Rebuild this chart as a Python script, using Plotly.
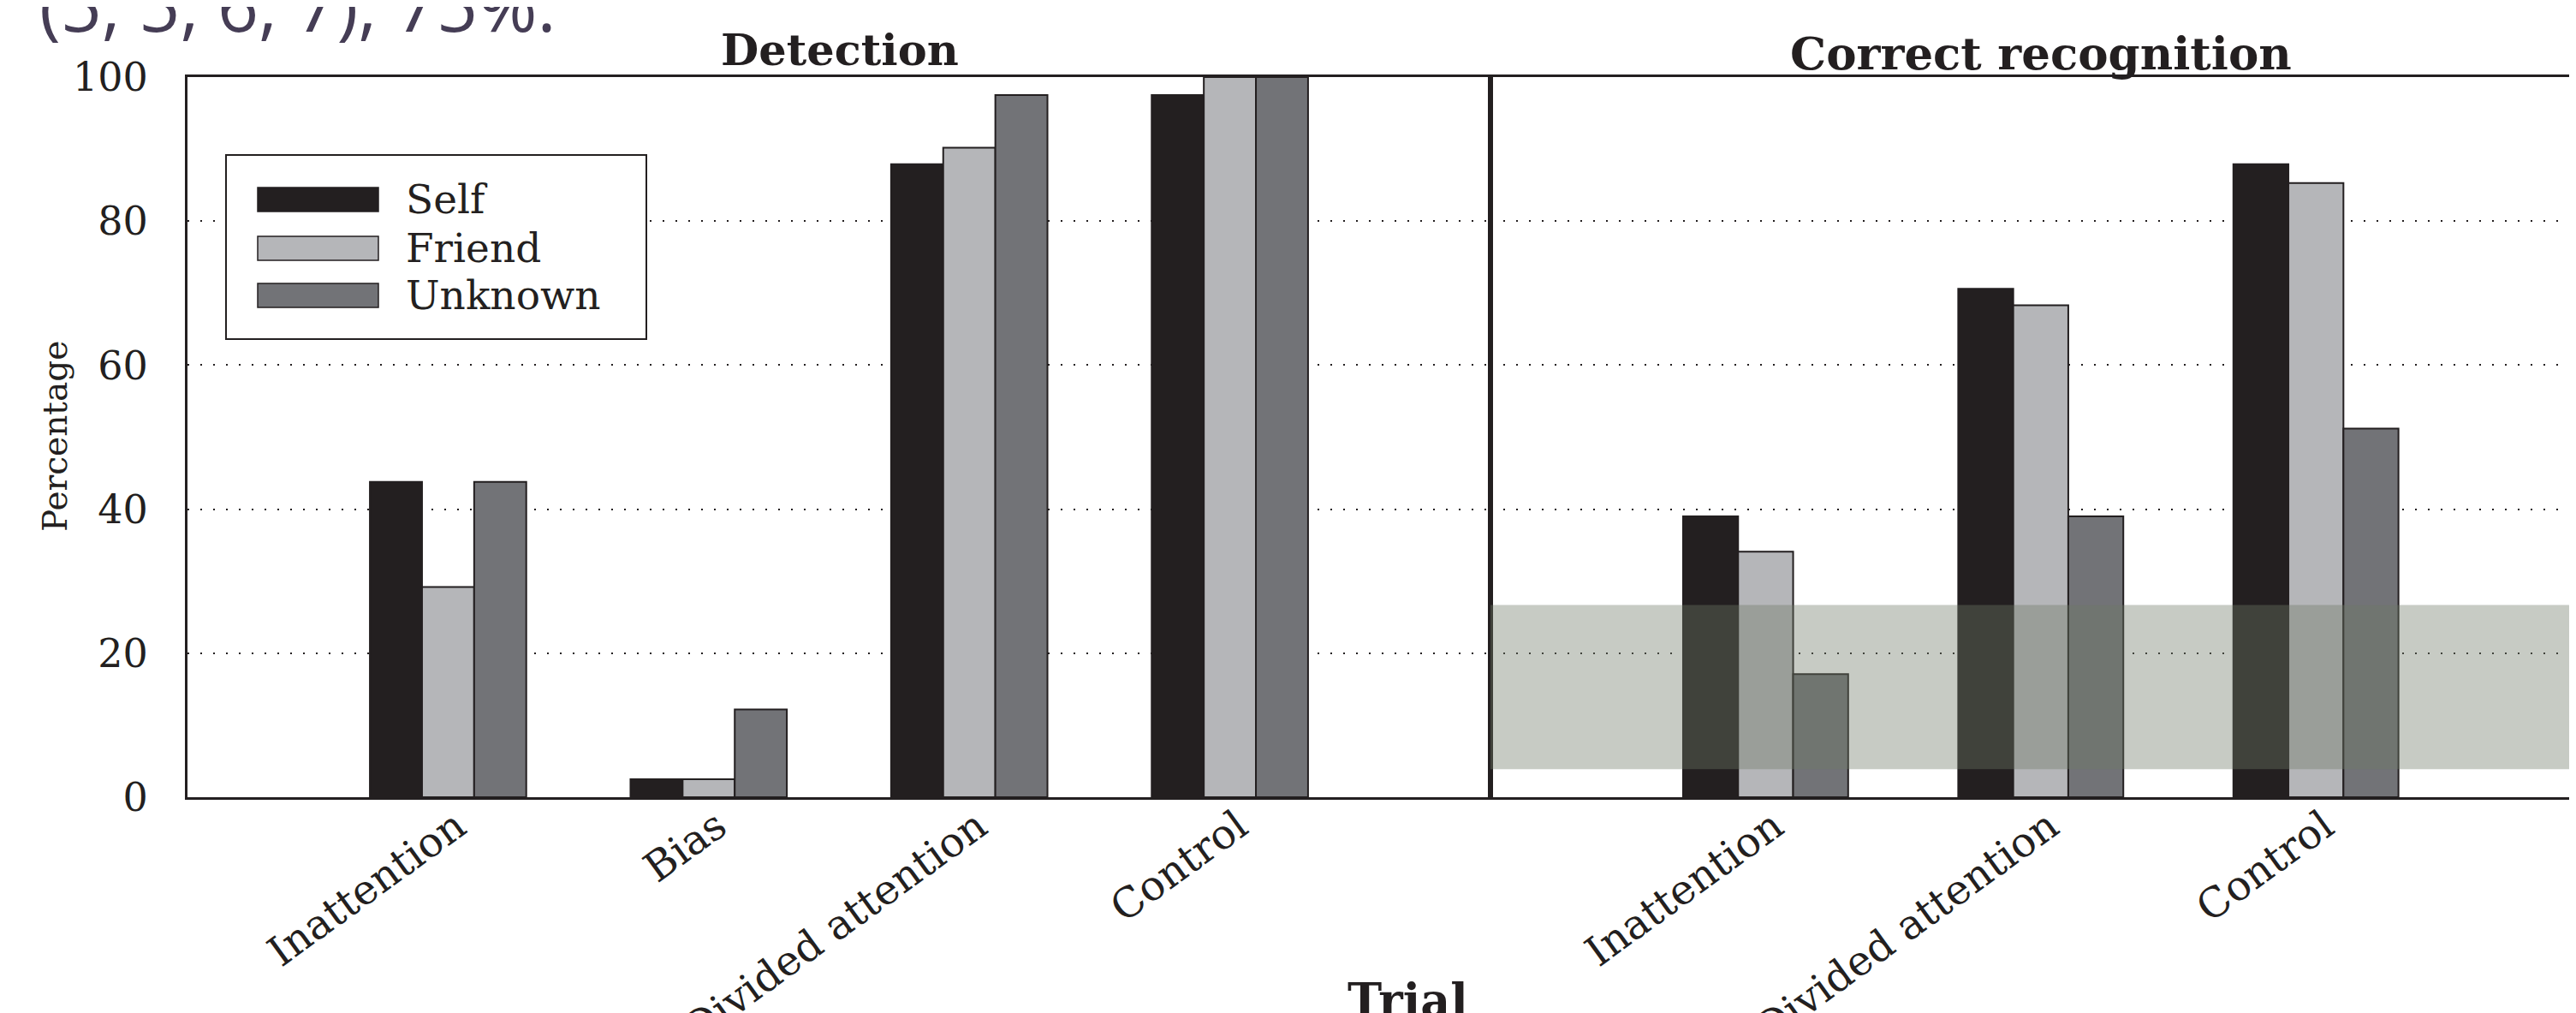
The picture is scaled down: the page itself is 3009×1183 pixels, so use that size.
import plotly.graph_objects as go

# ---------------- data ----------------
categories_det = ["Inattention", "Bias", "Divided attention", "Control"]
categories_rec = ["Inattention", "Divided attention", "Control"]
series_names = ["Self", "Friend", "Unknown"]

det_self = [43.8, 2.5, 87.9, 97.5]
det_friend = [29.2, 2.5, 90.2, 100.0]
det_unknown = [43.8, 12.2, 97.5, 100.0]

rec_self = [39.0, 70.6, 87.9]
rec_friend = [34.1, 68.3, 85.3]
rec_unknown = [17.1, 39.0, 51.2]

y_ticks = [0, 20, 40, 60, 80, 100]
band_range = [3.9, 26.7]
top_note = "(5, 5, 6, 7), 75%."

# ---------------- style ----------------
INK = "#231f20"
series_colors = ["#231f20", "#b5b6b9", "#727377"]
SERIF = "DejaVu Serif"

W, H = 3009, 1183
OFF = 8                      # default page margin around the plot div
L, T = 219 - OFF, 90 - OFF   # plot area starts at screen (219, 90)
B = H - (931 - OFF)          # plot area ends at screen y 931
R = 0
PW = W - L - R
PH = H - T - B


def px(xs):
    """screen x -> paper x"""
    return (xs - OFF - L) / PW


def py(ys):
    """screen y -> paper y"""
    return (H - B - (ys - OFF)) / PH


split = px(1741)
unit_right = 321.4
right_max = -1 + (W - (1741 - OFF)) / unit_right

fig = go.Figure()
det_values = [det_self, det_friend, det_unknown]
rec_values = [rec_self, rec_friend, rec_unknown]
for name, color, dv, rv in zip(series_names, series_colors, det_values, rec_values):
    fig.add_trace(go.Bar(
        x=categories_det, y=dv, name=name, showlegend=False,
        marker=dict(color=color, line=dict(color=INK, width=2)),
        xaxis="x", yaxis="y"))
    fig.add_trace(go.Bar(
        x=categories_rec, y=rv, name=name, showlegend=False,
        marker=dict(color=color, line=dict(color=INK, width=2)),
        xaxis="x2", yaxis="y2"))

xfont = dict(family=SERIF, size=48, color=INK)
yfont = dict(family=SERIF, size=46, color=INK)
grid = dict(showgrid=True, gridcolor=INK, gridwidth=2, griddash="2px,13px")
xcommon = dict(type="category", tickangle=-36, tickfont=xfont, ticks="",
               showgrid=False, ticklabelstandoff=-16, ticklabelshift=10,
               automargin=False, showline=True, mirror=True, linewidth=3,
               linecolor=INK, fixedrange=True)

fig.update_layout(
    width=W, height=H,
    margin=dict(l=L, r=R, t=T, b=B, pad=0, autoexpand=False),
    paper_bgcolor="white", plot_bgcolor="white",
    barmode="group", bargap=0.4, bargroupgap=0,
    showlegend=False,
    xaxis=dict(domain=[0, split], range=[-1, 4], anchor="y", **xcommon),
    xaxis2=dict(domain=[split, 1], range=[-1, right_max], anchor="y2",
                **xcommon),
    yaxis=dict(range=[0, 100], tickvals=y_ticks, tickfont=yfont, ticks="",
               ticklabelstandoff=34, zeroline=False, automargin=False,
               showline=True, mirror=True, linewidth=3, linecolor=INK,
               anchor="x", **grid),
    yaxis2=dict(range=[0, 100], tickvals=y_ticks, showticklabels=False,
                ticks="", zeroline=False, matches="y", automargin=False,
                showline=True, mirror=False, linewidth=3, linecolor=INK,
                anchor="x2", **grid),
)

# shaded chance band over the recognition panel
fig.add_shape(type="rect", xref="x2 domain", yref="y2",
              x0=0, x1=1, y0=band_range[0], y1=band_range[1],
              fillcolor="rgba(112,120,102,0.39)", line=dict(width=0),
              layer="above")

# ---------------- manual legend ----------------
fig.add_shape(type="rect", xref="paper", yref="paper",
              x0=px(264), x1=px(755), y0=py(396), y1=py(181),
              fillcolor="white", line=dict(color=INK, width=2), layer="above")
sw_tops = [219, 276, 331]
for name, color, top in zip(series_names, series_colors, sw_tops):
    fig.add_shape(type="rect", xref="paper", yref="paper",
                  x0=px(301), x1=px(442), y0=py(top + 28), y1=py(top),
                  fillcolor=color, line=dict(color=INK, width=1.5),
                  layer="above")
    fig.add_annotation(xref="paper", yref="paper", x=px(472), y=py(top + 13),
                       text=name, showarrow=False, xanchor="left",
                       yanchor="middle",
                       font=dict(family=SERIF, size=47, color=INK))

# ---------------- titles ----------------
fig.add_annotation(xref="paper", yref="paper", x=px(981), y=1.0,
                   text="<b>Detection</b>", showarrow=False,
                   xanchor="center", yanchor="bottom",
                   font=dict(family=SERIF, size=51, color=INK))
fig.add_annotation(xref="x2", yref="paper", x=1, y=py(95),
                   text="<b>Correct recognition</b>", showarrow=False,
                   xanchor="center", yanchor="bottom",
                   font=dict(family=SERIF, size=53, color=INK))
fig.add_annotation(xref="paper", yref="paper", x=px(1644), y=py(1202),
                   text="<b>Trial</b>", showarrow=False,
                   xanchor="center", yanchor="bottom",
                   font=dict(family=SERIF, size=54, color=INK))
fig.add_annotation(xref="paper", yref="paper", x=px(64), y=py(510),
                   text="Percentage", showarrow=False, textangle=-90,
                   xanchor="center", yanchor="middle",
                   font=dict(family=SERIF, size=39, color=INK))
fig.add_annotation(xref="paper", yref="paper", x=px(44), y=py(64),
                   text=top_note, showarrow=False,
                   xanchor="left", yanchor="bottom",
                   font=dict(family="Open Sans", size=84, color="#453d55"))

fig.write_html("out.html", config=dict(displayModeBar=False))
